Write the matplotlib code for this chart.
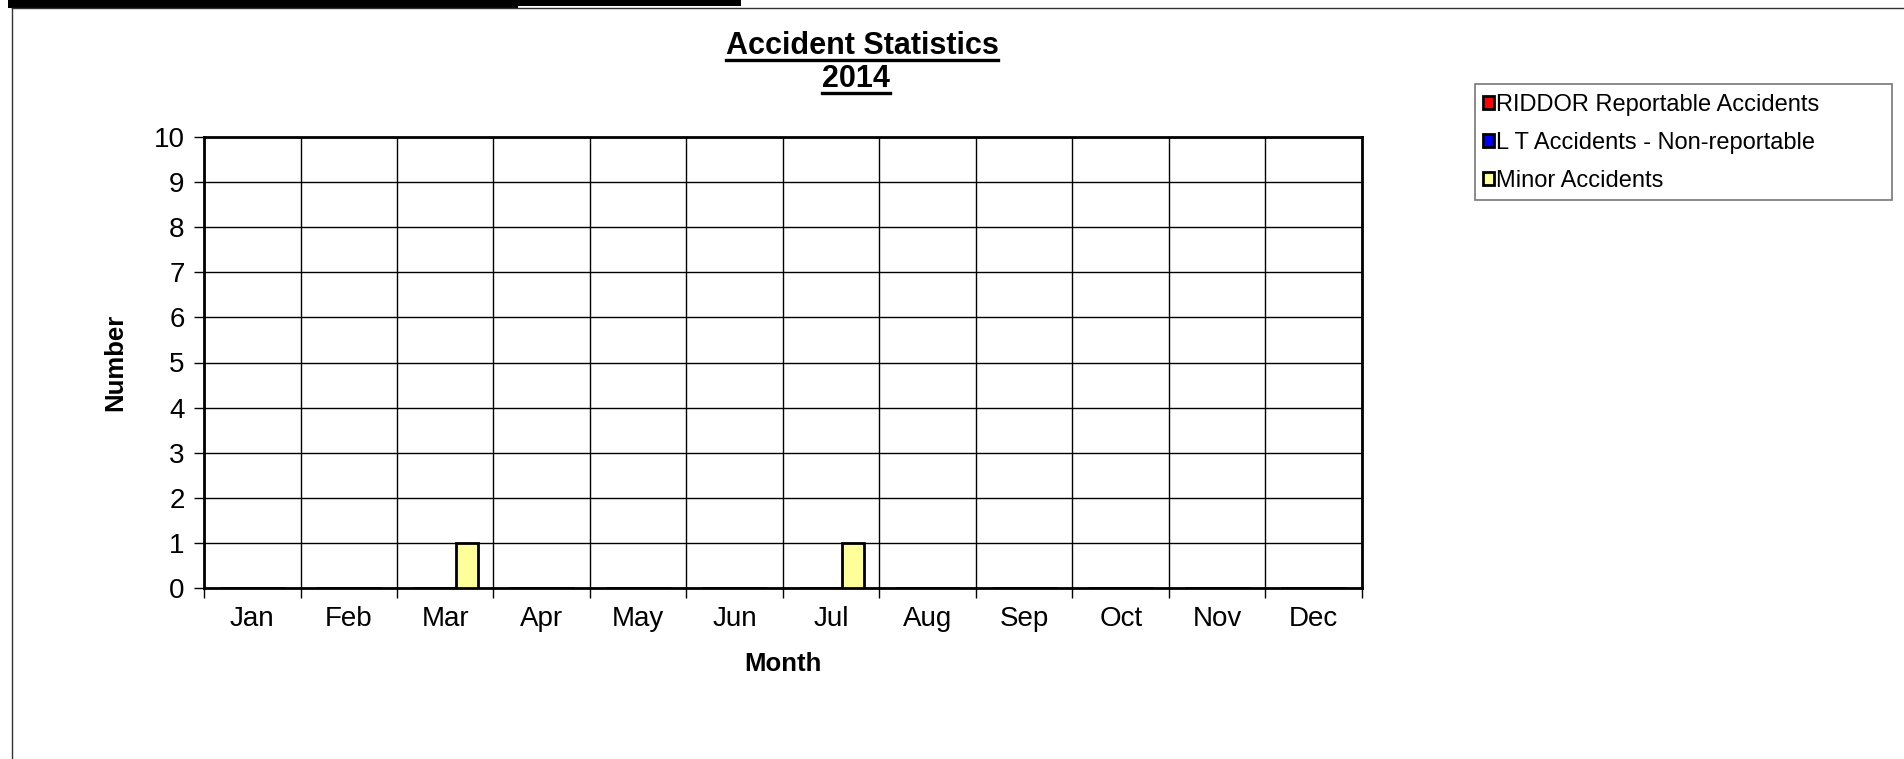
import matplotlib
matplotlib.use('Agg')
import numpy as np
import matplotlib.pyplot as plt
from matplotlib.patches import Rectangle
from matplotlib.lines import Line2D

plt.rcParams['font.family'] = ['Liberation Sans', 'DejaVu Sans']

months = ['Jan', 'Feb', 'Mar', 'Apr', 'May', 'Jun', 'Jul', 'Aug', 'Sep', 'Oct', 'Nov', 'Dec']
riddor = [0, 0, 0, 0, 0, 0, 0, 0, 0, 0, 0, 0]
lt_accidents = [0, 0, 0, 0, 0, 0, 0, 0, 0, 0, 0, 0]
minor = [0, 0, 1, 0, 0, 0, 1, 0, 0, 0, 0, 0]
series_names = ['RIDDOR Reportable Accidents', 'L T Accidents - Non-reportable', 'Minor Accidents']
series_colors = ['#FF0000', '#0000FF', '#FFFF99']

W, H = 1904, 759
fig = plt.figure(figsize=(W / 100, H / 100), dpi=100)

# --- outer frame and black bar at the top ---
fig.add_artist(Rectangle((8 / W, 1 - 8 / H), (518 - 8) / W, 8 / H, transform=fig.transFigure,
                         facecolor='black', edgecolor='none'))
fig.add_artist(Rectangle((518 / W, 1 - 6 / H), (741 - 518) / W, 6 / H, transform=fig.transFigure,
                         facecolor='black', edgecolor='none'))
fig.add_artist(Line2D([12 / W, 1], [1 - 8 / H, 1 - 8 / H], transform=fig.transFigure,
                      color='#333333', linewidth=1.0))
fig.add_artist(Line2D([12 / W, 12 / W], [0, 1 - 8 / H], transform=fig.transFigure,
                      color='#333333', linewidth=1.0))

# --- plot area ---
ax = fig.add_axes([204 / W, (H - 588) / H, (1362 - 204) / W, (588 - 137) / H])
x = np.arange(len(months))
bw = 0.225
handles = []
for i, (vals, col) in enumerate(zip([riddor, lt_accidents, minor], series_colors)):
    b = ax.bar(x + (i - 1) * bw, vals, width=bw, color=col, edgecolor='black', linewidth=2, zorder=3)
    handles.append(b)

ax.set_xlim(-0.5, len(months) - 0.5)
ax.set_ylim(0, 10)
ax.set_yticks(range(0, 11))
ax.set_xticks(np.arange(-0.5, len(months), 1.0))
ax.set_xticklabels([])
ax.set_xticks(x, minor=True)
ax.set_xticklabels(months, minor=True)
ax.tick_params(axis='x', which='major', length=7, width=1, direction='out')
ax.tick_params(axis='x', which='minor', length=0, pad=13, labelsize=20)
ax.tick_params(axis='y', length=7, width=1, direction='out', pad=7, labelsize=20)
ax.grid(True, which='major', color='black', linewidth=1, zorder=0)
ax.set_axisbelow(True)
for sp in ax.spines.values():
    sp.set_linewidth(2)

ax.set_xlabel('Month', fontsize=18.5, fontweight='bold', va='center')
ax.xaxis.set_label_coords(0.5, (588 - 664) / (588 - 137))
ax.set_ylabel('Number', fontsize=18.5, fontweight='bold', va='center')
ax.yaxis.set_label_coords((115 - 204) / (1362 - 204), 0.5)

# --- title, underlined ---
t1 = fig.text(862 / W, 1 - 46 / H, 'Accident Statistics', fontsize=22, fontweight='bold',
              ha='center', va='center')
t2 = fig.text(856 / W, 1 - 79 / H, '2014', fontsize=22, fontweight='bold',
              ha='center', va='center')
fig.canvas.draw()
r = fig.canvas.get_renderer()
for t in (t1, t2):
    bb = t.get_window_extent(r)
    yline = bb.y0 + 1
    fig.add_artist(Line2D([bb.x0 / W, bb.x1 / W], [yline / H, yline / H], transform=fig.transFigure,
                          color='black', linewidth=2.4))

# --- legend ---
fig.add_artist(Rectangle((1475 / W, 1 - 200 / H), (1892 - 1475) / W, (200 - 84) / H,
                         transform=fig.transFigure, facecolor='white', edgecolor='#777777',
                         linewidth=1.2))
fig.legend(handles, series_names, loc='upper left', bbox_to_anchor=(1483 / W, 1 - 94 / H),
           frameon=False, fontsize=17, handlelength=0.45, handleheight=0.45, handletextpad=0.12,
           labelspacing=0.68, borderpad=0, borderaxespad=0)

fig.savefig('out.png', dpi=100, facecolor='white')
